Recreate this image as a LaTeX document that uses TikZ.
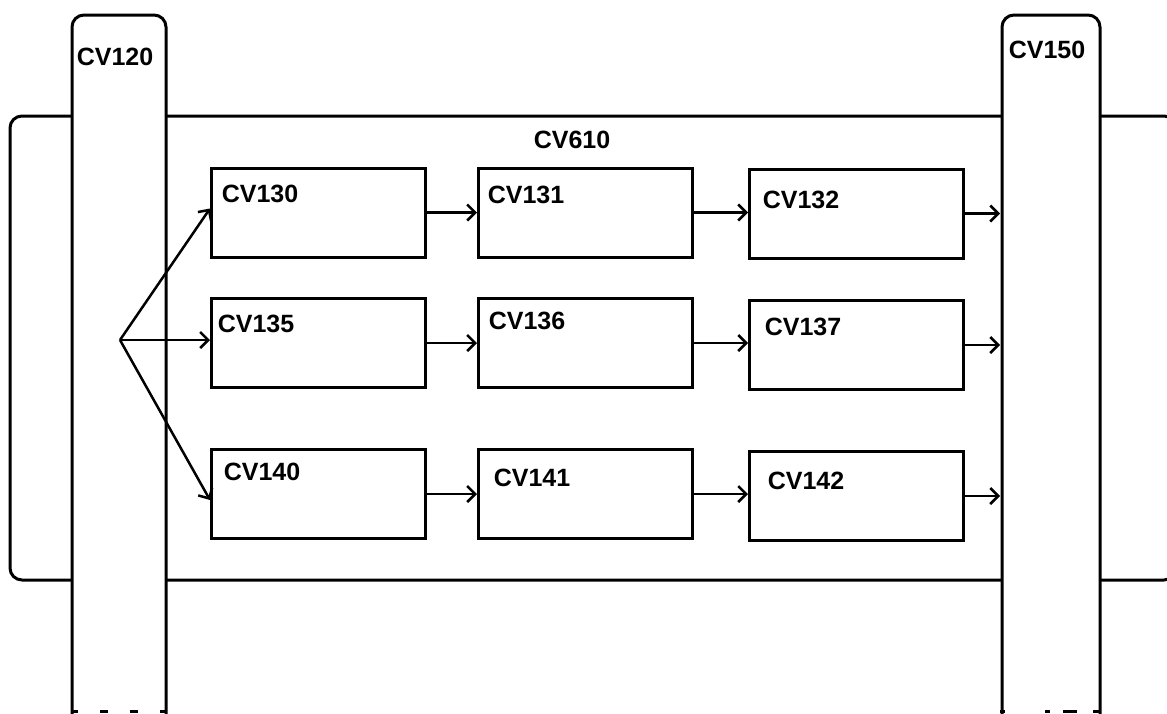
\documentclass[tikz,border=0pt]{standalone}
\usepackage{fontspec}
\setmainfont{Liberation Sans}
\usetikzlibrary{arrows.meta, positioning}
\tikzset{
  cvbox/.style={
    rectangle, draw=black, line width=3pt,
    minimum width=214pt, minimum height=89pt,
    inner sep=0pt
  },
  cvtext/.style={font=\fontsize{25}{28}\selectfont\bfseries, inner sep=0pt},
  busline/.style={draw=black, line width=3pt, rounded corners=12pt},
  arrow/.style={-{Straight Barb[length=8pt, width=16pt]}, line width=2.5pt, black},
  busend/.style={line width=3pt, black}
}

\begin{document}
\begin{tikzpicture}[x=1pt, y=-1pt]
  \clip (0,0) rectangle (1167,713);
  \fill[white] (0,0) rectangle (1167,713);

  % Container
  \draw[busline] (10,116) rectangle (1176,580);
  \node[cvtext] (t610) at (572,140) {CV610};

  % Columns
  \filldraw[busline, fill=white] (72,740) -- (72,15) -- (166,15) -- (166,740);
  \draw[busend, dash pattern=on 8pt off 22pt, dash phase=2pt] (72,711) -- (166,711);
  \node[cvtext] (t120) at (115,57) {CV120};

  \filldraw[busline, fill=white] (1002,740) -- (1002,15) -- (1100,15) -- (1100,740);
  \draw[busend, dash pattern=on 5pt off 40pt on 5pt off 13pt on 14pt off 16pt on 6pt]
    (1000,711) -- (1100,711);
  \node[cvtext] (t150) at (1047,50) {CV150};
  \coordinate (c150) at (1000,0);

  % Boxes
  \node[cvbox] (b130) at (318.5,212.5) {};
  \node[cvbox, right=50pt of b130] (b131) {};
  \node[cvbox, right=54pt of b131, yshift=-1pt] (b132) {};

  \node[cvbox] (b135) at (318.5,343) {};
  \node[cvbox, right=50pt of b135] (b136) {};
  \node[cvbox, right=54pt of b136, yshift=-2pt] (b137) {};

  \node[cvbox] (b140) at (318.5,494) {};
  \node[cvbox, right=50pt of b140] (b141) {};
  \node[cvbox, right=54pt of b141, yshift=-2pt] (b142) {};

  % Box labels
  \node[cvtext] (t130) at (260,194) {CV130};
  \node[cvtext] (t131) at (526,195) {CV131};
  \node[cvtext] (t132) at (801,200) {CV132};
  \node[cvtext] (t135) at (256,324) {CV135};
  \node[cvtext] (t136) at (527,321) {CV136};
  \node[cvtext] (t137) at (803,327) {CV137};
  \node[cvtext] (t140) at (262,472) {CV140};
  \node[cvtext] (t141) at (532,478) {CV141};
  \node[cvtext] (t142) at (806,481) {CV142};

  % Fan out from CV120
  \coordinate (fan) at (120,340);
  \draw[arrow] (fan) -- ([yshift=4pt]b130.west);
  \draw[arrow] (fan) -- (fan -| b135.west);
  \draw[arrow] (fan) -- ([yshift=-6pt]b140.west);

  % Row flows
  \foreach \a/\b/\c in {130/131/132, 135/136/137, 140/141/142} {
    \draw[arrow] (b\a.east) -- (b\b.west |- b\a.east);
    \draw[arrow] (b\b.east) -- (b\c.west |- b\b.east);
    \draw[arrow] (b\c.east) -- (b\c.east -| c150);
  }
\end{tikzpicture}
\end{document}
